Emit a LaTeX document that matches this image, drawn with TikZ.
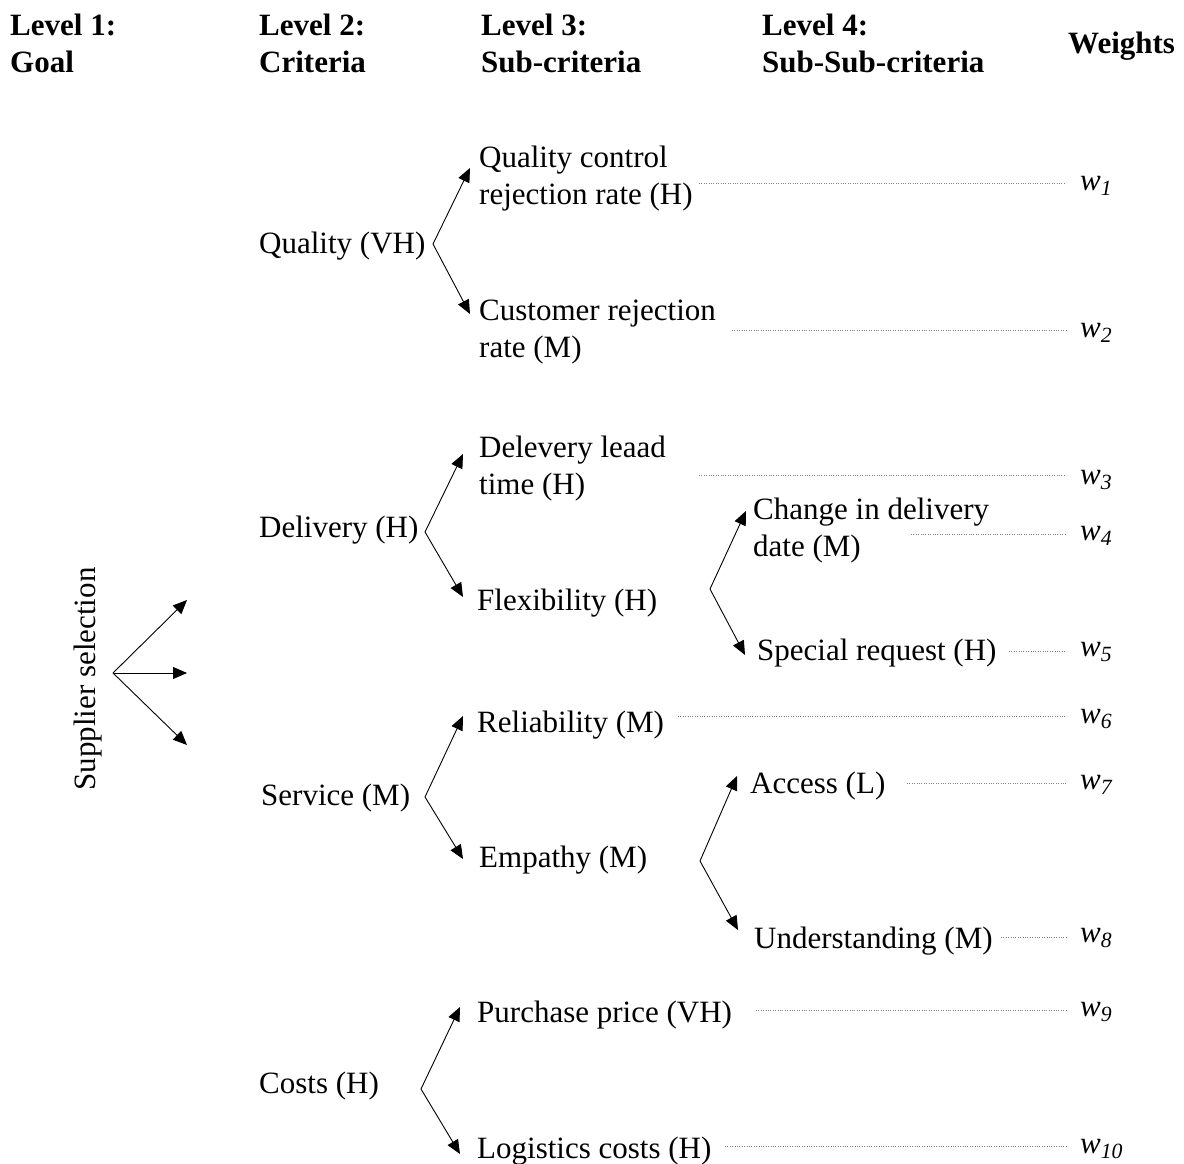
\documentclass[tikz,border=0pt]{standalone}
\usepackage{fontspec}
\setmainfont{Liberation Serif}
\usetikzlibrary{arrows.meta}
\begin{document}
\begin{tikzpicture}[x=1pt,y=-1pt,
  txt/.style={anchor=base west,inner sep=0pt,align=left,font=\fontsize{31}{37}\selectfont},
  hdr/.style={anchor=base west,inner sep=0pt,align=left,font=\fontsize{31}{37}\selectfont\bfseries},
  wt/.style={anchor=base west,inner sep=0pt,font=\fontsize{31}{37}\selectfont\itshape},
  arr/.style={line width=0.9pt,-{Triangle[length=14pt,width=12pt]}},
  dots/.style={draw=gray,line width=0.8pt,dash pattern=on 0.8pt off 1.6pt,shorten >=14pt}]
\useasboundingbox (0,0) rectangle (1184,1164);

% headers (base = baseline of last line)
\node[hdr] (h1) at (10,73) {Level 1:\\Goal};
\node[hdr] (h2) at (259,73) {Level 2:\\Criteria};
\node[hdr] (h3) at (481,73) {Level 3:\\Sub-criteria};
\node[hdr] (h4) at (762,73) {Level 4:\\Sub-Sub-criteria};
\node[hdr] (h5) at (1068,54) {Weights};

% goal
\node[inner sep=0pt,rotate=90,font=\fontsize{31}{37}\selectfont] (goal) at (88,679) {Supplier selection};
\coordinate (g0) at (113,673);
\coordinate (g1) at (187,600);
\coordinate (g2) at (187,673);
\coordinate (g3) at (187,745);
\draw[arr] (g0) -- (g1);
\draw[arr] (g0) -- (g2);
\draw[arr] (g0) -- (g3);

% level 2
\node[txt] (quality) at (259,253) {Quality (VH)};
\node[txt] (delivery) at (259,537) {Delivery (H)};
\node[txt] (service) at (261,805) {Service (M)};
\node[txt] (costs) at (259,1093) {Costs (H)};

% level 3
\node[txt] (qc) at (479,204) {Quality control\\rejection rate (H)};
\node[txt] (cr) at (479,357) {Customer rejection\\rate (M)};
\node[txt] (dl) at (479,494) {Delevery leaad\\time (H)};
\node[txt] (flex) at (477,610) {Flexibility (H)};
\node[txt] (rel) at (477,732) {Reliability (M)};
\node[txt] (emp) at (479,867) {Empathy (M)};
\node[txt] (pp) at (477,1022) {Purchase price (VH)};
\node[txt] (lc) at (477,1158) {Logistics costs (H)};

% level 4
\node[txt] (cdd) at (753,556) {Change in delivery\\date (M)};
\node[txt] (sr) at (757,660) {Special request (H)};
\node[txt] (acc) at (750,793) {Access (L)};
\node[txt] (und) at (754,948) {Understanding (M)};

% branch vertices and tips
\coordinate (vq) at (433,244);
\coordinate (tq1) at (470,168);
\coordinate (tq2) at (470,314);
\draw[arr] (vq) -- (tq1);
\draw[arr] (vq) -- (tq2);

\coordinate (vd) at (425,532);
\coordinate (td1) at (463,454);
\coordinate (td2) at (463,597);
\draw[arr] (vd) -- (td1);
\draw[arr] (vd) -- (td2);

\coordinate (vs) at (425,797);
\coordinate (ts1) at (463,716);
\coordinate (ts2) at (463,859);
\draw[arr] (vs) -- (ts1);
\draw[arr] (vs) -- (ts2);

\coordinate (vc) at (421,1089);
\coordinate (tc1) at (460,1007);
\coordinate (tc2) at (460,1154);
\draw[arr] (vc) -- (tc1);
\draw[arr] (vc) -- (tc2);

\coordinate (vf) at (710,589);
\coordinate (tf1) at (746,511);
\coordinate (tf2) at (745,655);
\draw[arr] (vf) -- (tf1);
\draw[arr] (vf) -- (tf2);

\coordinate (ve) at (700,861);
\coordinate (te1) at (737,776);
\coordinate (te2) at (738,930);
\draw[arr] (ve) -- (te1);
\draw[arr] (ve) -- (te2);

% weights
\node[wt] (w1) at (1080,190) {w\textsubscript{1}};
\node[wt] (w2) at (1080,337) {w\textsubscript{2}};
\node[wt] (w3) at (1080,484) {w\textsubscript{3}};
\node[wt] (w4) at (1080,540) {w\textsubscript{4}};
\node[wt] (w5) at (1080,656) {w\textsubscript{5}};
\node[wt] (w6) at (1080,723) {w\textsubscript{6}};
\node[wt] (w7) at (1080,789) {w\textsubscript{7}};
\node[wt] (w8) at (1080,942) {w\textsubscript{8}};
\node[wt] (w9) at (1080,1016) {w\textsubscript{9}};
\node[wt] (w10) at (1080,1153) {w\textsubscript{10}};

% dotted leaders
\coordinate (d1) at (699,183);
\coordinate (d2) at (732,330);
\coordinate (d3) at (699,475);
\coordinate (d4) at (911,534);
\coordinate (d5) at (1009,651);
\coordinate (d6) at (678,716);
\coordinate (d7) at (907,783);
\coordinate (d8) at (1001,937);
\coordinate (d9) at (756,1010);
\coordinate (d10) at (725,1146);
\foreach \i in {1,...,10} {\draw[dots] (d\i) -- (d\i -| w\i.west);}
\end{tikzpicture}
\end{document}
